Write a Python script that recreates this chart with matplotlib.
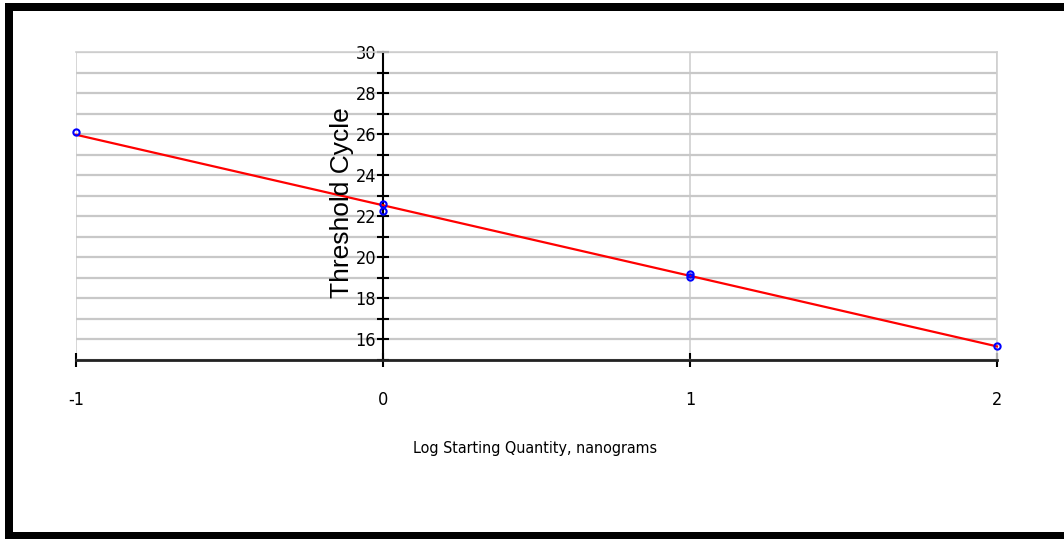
"""Standard curve: threshold cycle vs log starting quantity."""

import matplotlib
matplotlib.use("Agg")
import matplotlib.pyplot as plt
from matplotlib.patches import Rectangle
from matplotlib.ticker import MultipleLocator
import numpy as np

# replicate wells per dilution
log_quantity = [-1, 0, 0, 1, 1, 2]
threshold_cycle = [26.1, 22.25, 22.6, 19.2, 19.05, 15.7]

x_ticks = [-1, 0, 1, 2]

plt.rcParams["axes.unicode_minus"] = False

fig = plt.figure(figsize=(10.64, 5.39), dpi=100)
ax = fig.add_axes([76 / 1064, 1 - 360 / 539, (997 - 76) / 1064, (360 - 52) / 539])

ax.set_xlim(-1, 2)
ax.set_ylim(15, 30)

# light grid every cycle, vertical lines at each decade
ax.yaxis.set_major_locator(MultipleLocator(2))
ax.yaxis.set_minor_locator(MultipleLocator(1))
ax.set_xticks(x_ticks)
ax.grid(True, which="both", axis="y", color="#c8c8c8", lw=1.6, zorder=0)
ax.grid(True, which="major", axis="x", color="#cfcfcf", lw=1.2, zorder=0)

ax.spines["left"].set_position(("data", 0))
ax.spines["left"].set_color("black")
ax.spines["left"].set_linewidth(1.5)
ax.spines["bottom"].set_color("#222222")
ax.spines["bottom"].set_linewidth(2)
for side in ("top", "right"):
    ax.spines[side].set_color("#cfcfcf")
    ax.spines[side].set_linewidth(1.2)

ax.tick_params(axis="y", which="both", direction="inout", length=8, width=1.5,
               pad=1, labelsize=13)
ax.tick_params(axis="x", direction="inout", length=10, width=1.5, pad=17,
               labelsize=13)
for lbl in ax.get_xticklabels() + ax.get_yticklabels():
    lbl.set_family("DejaVu Sans")
    lbl.set_stretch("condensed")

# linear fit through all wells
slope, intercept = np.polyfit(log_quantity, threshold_cycle, 1)
fit_x = np.array([-1, 2])
ax.plot(fit_x, slope * fit_x + intercept, color="red", lw=1.6, zorder=3,
        clip_on=False)
ax.plot(log_quantity, threshold_cycle, "o", ms=4.5, mfc="none", mec="blue",
        mew=1.5, zorder=4, clip_on=False)

fig.text(342 / 1064, 1 - 203 / 539, "Threshold Cycle", rotation=90,
         ha="center", va="center", fontsize=19,
         family=["Liberation Sans", "DejaVu Sans"])
fig.text(535 / 1064, 1 - 449 / 539, "Log Starting Quantity, nanograms",
         ha="center", va="center", fontsize=11.5, family="DejaVu Sans",
         stretch="condensed")

# black frame around the chart
for x0, y0, w, h in [(5, 3, 8, 536), (5, 3, 1059, 8), (5, 532, 1059, 7)]:
    fig.add_artist(Rectangle((x0 / 1064, 1 - (y0 + h) / 539), w / 1064, h / 539,
                             transform=fig.transFigure, color="black", lw=0))

plt.savefig("out.png", dpi=100)
plt.close()
